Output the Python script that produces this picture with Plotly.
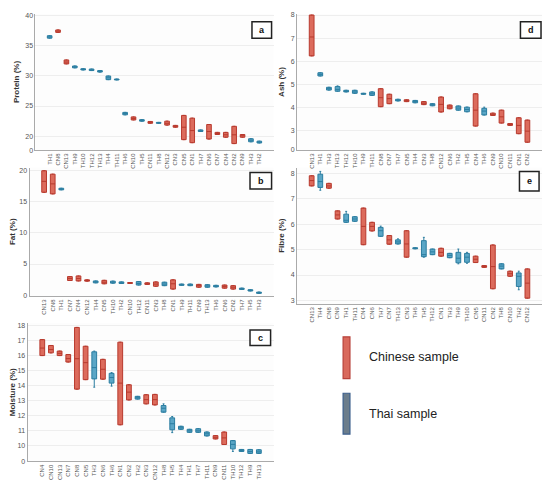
import plotly.graph_objs as go

# panel a - protein
a_labels = ["TH1", "CN8", "CN13", "TH9", "TH10", "TH12", "TH13", "TH4", "TH11", "TH6", "CN10", "TH5", "CN11",
            "TH8", "CN12", "CN3", "CN5", "CN1", "TH7", "CN6", "CN7", "CN4", "CN2", "CN9", "TH3", "TH2"]
a_q1 = [36.2, 37.15, 31.95, 31.3, 30.95, 30.85, 30.6, 29.35, 29.3, 23.55, 22.7, 22.5, 22.15,
        22.15, 21.85, 21.5, 19.45, 18.95, 20.8, 19.55, 20.3, 19.85, 18.8, 19.85, 19.1, 18.9]
a_med = [36.4, 37.35, 32.25, 31.45, 31.05, 30.95, 30.7, 29.65, 29.38, 23.75, 22.95, 22.6, 22.3,
         22.22, 22.15, 21.65, 21.5, 20.95, 20.9, 20.8, 20.45, 20.25, 20.25, 20.1, 19.35, 19.05]
a_q3 = [36.6, 37.55, 32.6, 31.6, 31.15, 31.1, 30.85, 29.95, 29.45, 23.95, 23.2, 22.75, 22.45,
        22.3, 22.5, 21.8, 23.45, 23.0, 21.05, 21.95, 20.65, 20.65, 21.65, 20.3, 19.6, 19.2]
a_ticks = [0, 20, 25, 30, 35, 40]

# panel b - fat
b_labels = ["CN13", "CN8", "TH1", "CN7", "CN4", "CN12", "TH4", "CN5", "TH10", "TH2", "CN10", "TH12", "CN11",
            "CN3", "TH8", "CN1", "TH9", "TH11", "CN9", "TH13", "TH6", "CN6", "CN2", "TH7", "TH5", "TH3"]
b_q1 = [16.45, 16.2, 16.85, 2.37, 2.3, 2.27, 2.0, 1.85, 1.95, 1.9, 1.9, 1.65, 1.75,
        1.45, 1.55, 1.0, 1.6, 1.55, 1.3, 1.3, 1.35, 1.15, 1.0, 0.95, 0.7, 0.32]
b_med = [18.2, 17.8, 16.95, 2.7, 2.7, 2.37, 2.15, 2.1, 2.1, 2.0, 1.98, 1.9, 1.85,
         1.8, 1.8, 1.85, 1.7, 1.68, 1.55, 1.5, 1.45, 1.4, 1.3, 1.05, 0.8, 0.42]
b_q3 = [19.9, 19.35, 17.1, 3.0, 3.1, 2.48, 2.3, 2.4, 2.27, 2.15, 2.05, 2.2, 2.0,
        2.15, 2.1, 2.48, 1.8, 1.8, 1.75, 1.7, 1.6, 1.65, 1.55, 1.15, 0.9, 0.52]
b_ticks = [0, 5, 10, 15, 20]

# panel c - moisture
c_labels = ["CN4", "CN10", "CN13", "CN7", "CN8", "CN5", "TH3", "CN6", "TH6", "CN1", "CN2", "TH2", "CN3",
            "CN12", "TH8", "TH5", "TH4", "TH1", "TH7", "TH11", "CN9", "CN11", "TH10", "TH12", "TH9", "TH13"]
c_q1 = [16.0, 16.18, 16.0, 15.57, 13.77, 14.4, 14.45, 14.43, 14.17, 11.4, 13.05, 13.11, 12.79,
        12.72, 12.24, 11.07, 11.1, 10.9, 10.9, 10.66, 10.46, 10.09, 9.8, 9.63, 9.5, 9.5]
c_med = [16.5, 16.4, 16.15, 15.8, 15.79, 15.53, 15.2, 15.09, 14.54, 14.17, 13.57, 13.2, 13.07,
         13.07, 12.5, 11.47, 11.2, 11.0, 11.0, 10.8, 10.57, 10.53, 10.1, 9.7, 9.63, 9.6]
c_q3 = [17.06, 16.67, 16.3, 16.07, 17.87, 16.62, 16.25, 15.75, 14.82, 16.89, 14.06, 13.29, 13.4,
        13.42, 12.68, 11.86, 11.3, 11.1, 11.14, 10.92, 10.68, 10.92, 10.35, 9.76, 9.76, 9.74]
c_lo = [None, None, None, None, None, None, 13.9, None, 13.97, None, None, None, None,
        None, None, 10.88, None, None, None, None, None, None, 9.63, None, None, None]
c_hi = [None, None, None, None, None, None, 16.3, None, 14.87, None, None, None, None,
        None, 12.79, 11.95, None, None, None, None, None, None, None, None, None, None]
c_ticks = [0, 10, 11, 12, 13, 14, 15, 16, 17, 18]

# panel d - ash
d_labels = ["CN13", "TH1", "TH3", "TH13", "TH12", "TH10", "TH9", "TH11", "CN8", "CN7", "TH7", "CN5", "TH4",
            "CN3", "TH8", "CN12", "CN6", "TH2", "TH5", "CN4", "TH6", "CN9", "CN10", "CN11", "CN1", "CN2"]
d_q1 = [6.23, 5.36, 4.75, 4.7, 4.67, 4.61, 4.57, 4.52, 4.03, 4.16, 4.28, 4.25, 4.2,
        4.12, 4.07, 3.8, 3.94, 3.88, 3.81, 3.19, 3.67, 3.65, 3.32, 3.22, 2.86, 2.49]
d_med = [7.05, 5.43, 4.81, 4.78, 4.7, 4.67, 4.59, 4.59, 4.42, 4.38, 4.31, 4.29, 4.25,
         4.18, 4.12, 4.13, 4.02, 3.97, 3.91, 3.88, 3.84, 3.7, 3.59, 3.26, 3.22, 2.97]
d_q3 = [8.0, 5.5, 4.87, 4.9, 4.74, 4.74, 4.61, 4.67, 4.81, 4.57, 4.35, 4.33, 4.3,
        4.25, 4.16, 4.45, 4.1, 4.06, 4.01, 4.59, 3.96, 3.75, 3.88, 3.3, 3.55, 3.45]
d_lo = [None] * 26
d_hi = [None, None, None, 4.93, None, None, None, None, None, None, None, None, None,
        None, None, None, None, None, None, None, 4.01, None, None, None, None, None]
d_ticks = [0, 3, 4, 5, 6, 7, 8]

# panel e - fibre
e_labels = ["CN13", "TH4", "CN8", "CN9", "TH1", "TH11", "CN4", "CN6", "TH7", "CN7", "TH13", "CN3", "TH6",
            "TH5", "TH12", "CN1", "TH3", "TH9", "TH10", "CN5", "CN11", "CN2", "TH8", "CN10", "TH2", "CN12"]
e_q1 = [7.5, 7.44, 7.41, 6.2, 6.07, 6.11, 5.19, 5.73, 5.52, 5.21, 5.22, 4.7, 5.03,
        4.72, 4.8, 4.74, 4.68, 4.48, 4.5, 4.49, 4.3, 3.46, 4.24, 3.95, 3.55, 3.09]
e_med = [7.71, 7.67, 7.5, 6.36, 6.15, 6.2, 5.91, 5.91, 5.74, 5.38, 5.3, 5.22, 5.05,
         4.8, 4.91, 4.89, 4.77, 4.66, 4.7, 4.62, 4.33, 4.33, 4.35, 4.05, 3.95, 3.68]
e_q3 = [7.9, 7.96, 7.6, 6.52, 6.39, 6.29, 6.63, 6.07, 5.87, 5.55, 5.38, 5.74, 5.07,
        5.35, 5.02, 5.05, 4.85, 4.89, 4.85, 4.74, 4.37, 5.18, 4.44, 4.15, 4.08, 4.24]
e_lo = [None, 7.33, None, None, None, None, None, None, None, None, None, None, None,
        4.7, None, None, None, 4.44, 4.46, None, None, None, None, None, 3.42, None]
e_hi = [None, 8.07, None, None, 6.5, None, None, None, 5.92, None, 5.42, None, None,
        5.48, None, None, None, 5.02, 4.89, None, None, None, None, None, 4.15, None]
e_ticks = [3, 4, 5, 6, 7, 8]

CN_FILL = '#dc6b5c'
CN_LINE = '#b83a2e'
TH_FILL = '#5aa6c6'
TH_LINE = '#2b7da0'

# the page body has an 8px margin, so the figure is a bit smaller than the window
W, H = 534, 472


def px(x):
    # reference pixel -> paper fraction
    return (x - 3) / 545


def py(y):
    return 1 - (y - 3) / 477


# pixel boxes below (left, top, right, bottom)
panels = [
    dict(t='a', title='Protein (%)', lab=a_labels, q1=a_q1, med=a_med, q3=a_q3, lo=None, hi=None,
         ticks=a_ticks, brk=17.73, rng=[17.73, 40.2], box=(31, 7, 274, 147), lbox=(252, 15, 272, 32)),
    dict(t='b', title='Fat (%)', lab=b_labels, q1=b_q1, med=b_med, q3=b_q3, lo=None, hi=None,
         ticks=b_ticks, brk=None, rng=[-0.1, 20.4], box=(25, 165, 274, 297), lbox=(250, 170, 272, 187)),
    dict(t='c', title='Moisture (%)', lab=c_labels, q1=c_q1, med=c_med, q3=c_q3, lo=c_lo, hi=c_hi,
         ticks=c_ticks, brk=8.99, rng=[8.97, 18.15], box=(23, 325, 274, 467), lbox=(250, 332, 271, 348)),
    dict(t='d', title='Ash (%)', lab=d_labels, q1=d_q1, med=d_med, q3=d_q3, lo=d_lo, hi=d_hi,
         ticks=d_ticks, brk=2.17, rng=[2.15, 8.05], box=(298, 7, 548, 147), lbox=(526, 15, 547, 32)),
    dict(t='e', title='Fibre (%)', lab=e_labels, q1=e_q1, med=e_med, q3=e_q3, lo=e_lo, hi=e_hi,
         ticks=e_ticks, brk=None, rng=[2.87, 8.22], box=(298, 165, 548, 305), lbox=(525, 169, 545, 189)),
]

fig = go.Figure()
layout = {}
shapes = []
annotations = []

for i, p in enumerate(panels):
    n = i + 1
    xa = 'x' if n == 1 else 'x%d' % n
    ya = 'y' if n == 1 else 'y%d' % n
    lo = p['lo'] if p['lo'] else [None] * len(p['lab'])
    hi = p['hi'] if p['hi'] else [None] * len(p['lab'])
    for grp, fill, line in [('CN', CN_FILL, CN_LINE), ('TH', TH_FILL, TH_LINE)]:
        idx = [k for k, s in enumerate(p['lab']) if s.startswith(grp)]
        fig.add_trace(go.Box(
            x=[p['lab'][k] for k in idx],
            q1=[p['q1'][k] for k in idx],
            median=[p['med'][k] for k in idx],
            q3=[p['q3'][k] for k in idx],
            lowerfence=[lo[k] if lo[k] is not None else p['q1'][k] for k in idx],
            upperfence=[hi[k] if hi[k] is not None else p['q3'][k] for k in idx],
            fillcolor=fill, line=dict(color=line, width=1), width=0.55, whiskerwidth=0.4,
            boxpoints=False, showlegend=False, hoverinfo='skip',
            xaxis=xa, yaxis=ya))

    l, t, r, b = p['box']
    tickvals = list(p['ticks'])
    if p['brk'] is not None:
        tickvals[0] = p['brk']
    layout['xaxis' if n == 1 else 'xaxis%d' % n] = dict(
        domain=[px(l), px(r)], anchor=ya, type='category',
        categoryorder='array', categoryarray=p['lab'],
        tickangle=-90, tickfont=dict(size=6, color='#555555'),
        showline=True, linecolor='#aaaaaa', linewidth=1, showgrid=False,
        ticks='', ticklen=0, zeroline=False)
    layout['yaxis' if n == 1 else 'yaxis%d' % n] = dict(
        domain=[py(b), py(t)], anchor=xa, range=p['rng'],
        tickvals=tickvals, ticktext=[str(v) for v in p['ticks']],
        tickfont=dict(size=7, color='#555555'),
        title=dict(text='<b>%s</b>' % p['title'], font=dict(size=8, color='#333333'), standoff=4),
        showline=True, linecolor='#aaaaaa', linewidth=1,
        showgrid=True, gridcolor='#eeeeee', gridwidth=1, zeroline=False, ticks='')

    # letter box
    bl, bt, br, bb = p['lbox']
    shapes.append(dict(type='rect', xref='paper', yref='paper',
                       x0=px(bl), x1=px(br), y0=py(bb), y1=py(bt),
                       line=dict(color='#222222', width=1.5), fillcolor='white', layer='above'))
    annotations.append(dict(text='<b>%s</b>' % p['t'], xref='paper', yref='paper',
                            x=px((bl + br) / 2), y=py((bt + bb) / 2), showarrow=False,
                            xanchor='center', yanchor='middle',
                            font=dict(size=9, color='#111111')))

# legend drawn by hand
shapes.append(dict(type='rect', xref='paper', yref='paper', x0=px(345), x1=px(352), y0=py(382), y1=py(339),
                   line=dict(color='#b8413a', width=1.2), fillcolor='#d9695c'))
shapes.append(dict(type='rect', xref='paper', yref='paper', x0=px(345), x1=px(352), y0=py(439), y1=py(397),
                   line=dict(color='#3c5f8c', width=1.2), fillcolor='#6b7d8c'))
annotations.append(dict(text='Chinese sample', xref='paper', yref='paper', x=px(369), y=py(360),
                        xanchor='left', yanchor='middle', showarrow=False,
                        font=dict(size=12.5, color='#222222')))
annotations.append(dict(text='Thai sample', xref='paper', yref='paper', x=px(369), y=py(418),
                        xanchor='left', yanchor='middle', showarrow=False,
                        font=dict(size=12.5, color='#222222')))

fig.update_layout(**layout)
fig.update_layout(
    width=W, height=H, margin=dict(l=0, r=0, t=0, b=0),
    boxmode='overlay', shapes=shapes, annotations=annotations,
    paper_bgcolor='white', plot_bgcolor='#fdfdfd',
    font=dict(family='Liberation Sans, Arial, sans-serif'))

fig.write_html("out.html")
